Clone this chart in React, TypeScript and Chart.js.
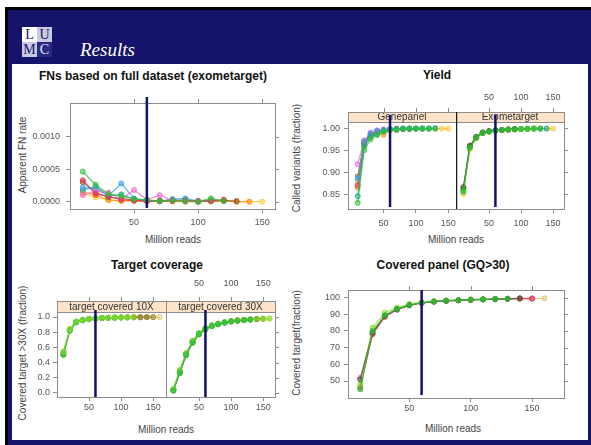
import React, { useEffect, useRef } from "react";
import { Chart, registerables } from "chart.js";

Chart.register(...registerables);

// ---------- data ----------
const READS = [10, 20, 30, 40, 50, 60, 70, 80, 90, 100, 110, 120, 130, 140, 150, 160];
const MARKER_READS = 60;
const X_TICKS = [50, 100, 150];
const FN_Y_TICKS = [0, 0.0005, 0.001];
const YIELD_Y_TICKS = [0.85, 0.9, 0.95, 1.0];
const COVERAGE_Y_TICKS = [0, 0.2, 0.4, 0.6, 0.8, 1.0];
const PANEL_Y_TICKS = [50, 60, 70, 80, 90, 100];

// FNs based on full dataset (exometarget)
const FN_RED = [0.00033, 0.00012, 0.00008, 0.00003, 0.00002, 0.00001, 0.00002, 0.00001, 0.00002, 0.00001, 0.00002, 0.00003];
const FN_GREEN = [0.00046, 0.00026, 0.00012, 0.00009, 0.00004, 0.00003, 0.00001, 0.00002, 0.00001, 0.0, 0.00005, 0.00001];
const FN_BLUE = [0.00022, 0.0002, 0.00009, 0.00028, 0.00005, 0.00002, 0.00001, 0.00004, 0.00005, 0.00001];
const FN_PINK = [0.0001, 0.00016, 0.00014, 0.00004, 0.00018, 0.00003, 0.0001, 0.00002, 0.00001, 0.00001, 0.00002];
const FN_TEAL = [0.00018, 0.00023, 0.00009, 0.00011, 0.00004, 0.00002, 0.00001, 0.00002, 0.00003, 0.0, 0.00001];
const FN_ORANGE = [0.00015, 0.0001, 0.00003, 0.00001, 0.00002, 0.00001, 0.0, 0.00001, 0.0, 0.0, 0.00001, 0.00001, 0.0, 0.0];
const FN_YELLOW = [0.00012, 0.00007, 0.00002, 0.00002, 0.00001, 0.0, 0.00001, 0.0, 0.0, 0.0, 0.0, 0.00001, 0.0, 0.0, 0.0];
const FN_BROWN = [0.0003, 0.00014, 0.00007, 0.00005, 0.00002, 0.00001, 0.00001, 0.00003, 0.00001, 0.00001, 0.00001, 0.00002, 0.00001];

// Yield - Genepanel
const YG_RED = [0.87, 0.965, 0.985, 0.992, 0.995, 0.997, 0.998, 0.998];
const YG_GREEN = [0.83, 0.95, 0.975, 0.985, 0.992, 0.996, 0.997, 0.998, 0.999, 0.999, 0.999, 0.999, 0.999];
const YG_BLUE = [0.885, 0.97, 0.988, 0.994, 0.996, 0.998, 0.998, 0.999, 0.999, 0.999, 0.999, 0.999, 1.0];
const YG_PINK = [0.918, 0.972, 0.99, 0.995, 0.997, 0.998, 0.999];
const YG_TEAL = [0.845, 0.96, 0.982, 0.985, 0.993, 0.997, 0.998, 0.999, 0.999, 0.999, 0.999, 0.999];
const YG_ORANGE = [0.865, 0.958, 0.98, 0.99, 0.985, 0.996, 0.997, 0.998, 0.999];
const YG_YELLOW = [0.88, 0.962, 0.983, 0.991, 0.994, 0.996, 0.997, 0.998, 0.998, 0.999, 0.999, 0.999, 0.999, 0.999, 0.999];
const YG_OLIVE = [0.89, 0.968, 0.986, 0.993, 0.995, 0.997, 0.996, 0.998, 0.998, 0.999, 0.999];

// Yield - Exometarget
const YE_A = [0.862, 0.958, 0.979, 0.99, 0.993, 0.995, 0.996, 0.997, 0.998, 0.998, 0.998, 0.999];
const YE_B = [0.855, 0.955, 0.978, 0.989, 0.992, 0.994, 0.996, 0.997, 0.997, 0.998, 0.998, 0.999, 0.999];
const YE_C = [0.866, 0.96, 0.98, 0.99, 0.993, 0.995, 0.996, 0.997, 0.998];
const YE_D = [0.85, 0.952, 0.977, 0.988, 0.992, 0.994, 0.995, 0.996, 0.997, 0.998, 0.998, 0.999, 0.999, 0.999, 0.999];
const YE_E = [0.858, 0.957, 0.979, 0.989, 0.993, 0.995, 0.996, 0.997, 0.998, 0.998, 0.999, 0.999, 0.999, 0.999];
const YE_F = [0.86, 0.956, 0.978, 0.99, 0.992, 0.994, 0.996, 0.997, 0.997, 0.998, 0.998, 0.999];

// Target coverage - 10X
const T10_A = [0.54, 0.84, 0.94, 0.96, 0.975, 0.982, 0.986, 0.99, 0.992, 0.994, 0.995, 0.996];
const T10_B = [0.5, 0.82, 0.93, 0.955, 0.97, 0.98, 0.985, 0.989, 0.991, 0.993, 0.995];
const T10_C = [0.52, 0.83, 0.935, 0.96, 0.972, 0.981, 0.986, 0.99, 0.992, 0.994, 0.995, 0.996, 0.997, 0.998, 0.998];
const T10_D = [0.53, 0.835, 0.94, 0.962, 0.975, 0.983, 0.987, 0.99, 0.993];
const T10_E = [0.51, 0.825, 0.93, 0.958, 0.973, 0.98, 0.985, 0.989, 0.992, 0.994, 0.995, 0.996, 0.997, 0.998];
const T10_F = [0.55, 0.845, 0.94, 0.965, 0.977, 0.984, 0.988, 0.991, 0.993, 0.995, 0.996, 0.997, 0.998, 0.998, 0.999, 0.999];

// Target coverage - 30X
const T30_A = [0.05, 0.3, 0.52, 0.68, 0.79, 0.85, 0.89, 0.91, 0.93, 0.945, 0.955, 0.962, 0.968, 0.973, 0.977, 0.98];
const T30_B = [0.03, 0.26, 0.5, 0.66, 0.77, 0.84, 0.88, 0.905, 0.925, 0.94, 0.95, 0.958, 0.965];
const T30_C = [0.04, 0.28, 0.51, 0.67, 0.78, 0.845, 0.885, 0.91, 0.93, 0.945, 0.955, 0.962, 0.968, 0.972, 0.976];
const T30_D = [0.045, 0.29, 0.52, 0.68, 0.785, 0.85, 0.89, 0.91, 0.93];
const T30_E = [0.035, 0.27, 0.5, 0.665, 0.775, 0.84, 0.88, 0.905, 0.925, 0.94, 0.952, 0.96, 0.966, 0.971];
const T30_F = [0.05, 0.3, 0.53, 0.69, 0.79, 0.855, 0.892, 0.915, 0.932, 0.947, 0.957, 0.964, 0.97, 0.974, 0.978, 0.98];

// Covered panel (GQ>30)
const CV_RED = [46, 78, 88.5, 92.8, 95.4, 96.8, 97.6, 98.1, 98.4, 98.7, 98.9, 99.1, 99.3, 99.6, 99.4];
const CV_GREEN = [45, 80, 89.5, 93.3, 95.6, 96.9, 97.7, 98.2, 98.5, 98.8, 99.0, 99.2, 99.4];
const CV_DARK = [51, 79, 89, 93, 95.5, 96.8, 97.6, 98.1, 98.4, 98.7, 98.9, 99.1, 99.3, 99.5];
const CV_PINK = [52, 78.5, 89.2, 93.2, 95.6, 96.9, 97.7, 98.2, 98.5, 98.8, 99.0, 99.2, 99.3, 99.5, 99.6];
const CV_LIME = [48, 82, 91, 94, 96.2, 97.2, 97.9, 98.3, 98.6, 98.9, 99.1, 99.3];
const CV_YELLOW = [47, 79, 89, 93, 95.6, 96.9, 97.6, 98.1, 98.4, 98.7, 98.9, 99.1, 99.3, 99.4, 99.5, 99.6];

// ---------- styles ----------
const FONT = '"Liberation Sans", Arial, sans-serif';
const NAVY = "#15146a";
const MARKER = "#101070";
const FRAME = "#8c8c8c";
const TICK_TEXT = "#555555";
const STRIP_BG = "#fde3c8";

const C_RED = "#e8364f";
const C_GREEN = "#2fbf3a";
const C_BLUE = "#3fa0f0";
const C_PINK = "#f36bd6";
const C_TEAL = "#1fa69a";
const C_ORANGE = "#ff8c1a";
const C_YELLOW = "#ffc933";
const C_BROWN = "#8c5a2b";
const C_LIME = "#86e02a";
const C_YGREEN = "#b5d930";
const C_OLIVE = "#7f7a30";
const C_DARK = "#3f5a2a";
const C_TAN = "#e0c870";

type Series = { values: number[]; color: string };
type Spec = {
  box: { left: number; top: number; right: number; bottom: number };
  m: { l: number; t: number; r: number; b: number };
  xMin: number;
  xMax: number;
  yMin: number;
  yMax: number;
  yTicks: number[];
  yFmt: (v: number) => string;
  showY: boolean;
  yPad: number;
  xPad: number;
  strip?: string;
  stripH: number;
  topLabels: boolean;
  topGap: number;
  rightTicks: boolean;
  leftEdge?: string;
  markTop: number;
  markBottom: number;
  series: Series[]; // listed bottom-most first
};

function rgba(hex: string, a: number) {
  const n = parseInt(hex.slice(1), 16);
  return `rgba(${(n >> 16) & 255},${(n >> 8) & 255},${n & 255},${a})`;
}

const FN_SPEC: Spec = {
  box: { left: 70, top: 103, right: 275, bottom: 209 },
  m: { l: 44, t: 12, r: 8, b: 24 },
  xMin: 0, xMax: 160, yMin: -0.000112, yMax: 0.001514,
  yTicks: FN_Y_TICKS, yFmt: (v) => v.toFixed(4),
  showY: true, yPad: 6, xPad: 4, stripH: 0, topLabels: false, topGap: 0,
  rightTicks: true, markTop: -6, markBottom: -1,
  series: [
    { values: FN_YELLOW, color: C_YELLOW },
    { values: FN_ORANGE, color: C_ORANGE },
    { values: FN_BROWN, color: C_BROWN },
    { values: FN_TEAL, color: C_TEAL },
    { values: FN_BLUE, color: C_BLUE },
    { values: FN_PINK, color: C_PINK },
    { values: FN_RED, color: C_RED },
    { values: FN_GREEN, color: C_GREEN },
  ],
};

const YIELD_GENE_SPEC: Spec = {
  box: { left: 348, top: 122, right: 456, bottom: 209 },
  m: { l: 40, t: 30, r: 2, b: 24 },
  xMin: -5, xMax: 162, yMin: 0.816, yMax: 1.014,
  yTicks: YIELD_Y_TICKS, yFmt: (v) => v.toFixed(2),
  showY: true, yPad: 4, xPad: 5, strip: "Genepanel", stripH: 10, topLabels: false, topGap: 14,
  rightTicks: false, markTop: -7, markBottom: -2,
  series: [
    { values: YG_YELLOW, color: C_YELLOW },
    { values: YG_ORANGE, color: C_ORANGE },
    { values: YG_OLIVE, color: C_OLIVE },
    { values: YG_PINK, color: C_PINK },
    { values: YG_RED, color: C_RED },
    { values: YG_BLUE, color: C_BLUE },
    { values: YG_TEAL, color: C_TEAL },
    { values: YG_GREEN, color: C_GREEN },
  ],
};

const YIELD_EXO_SPEC: Spec = {
  box: { left: 456, top: 122, right: 564, bottom: 209 },
  m: { l: 0, t: 30, r: 8, b: 24 },
  xMin: -1.5, xMax: 167, yMin: 0.816, yMax: 1.014,
  yTicks: YIELD_Y_TICKS, yFmt: (v) => v.toFixed(2),
  showY: false, yPad: 4, xPad: 5, strip: "Exometarget", stripH: 10, topLabels: true, topGap: 14,
  rightTicks: true, leftEdge: "#1a1a1a", markTop: -7, markBottom: -2,
  series: [
    { values: YE_D, color: C_YELLOW },
    { values: YE_E, color: C_TEAL },
    { values: YE_A, color: C_OLIVE },
    { values: YE_F, color: C_LIME },
    { values: YE_C, color: C_DARK },
    { values: YE_B, color: C_GREEN },
  ],
};

const TARGET_10_SPEC: Spec = {
  box: { left: 57, top: 312, right: 166, bottom: 397 },
  m: { l: 36, t: 35, r: 2, b: 20 },
  xMin: 0, xMax: 170, yMin: -0.053, yMax: 1.066,
  yTicks: COVERAGE_Y_TICKS, yFmt: (v) => v.toFixed(1),
  showY: true, yPad: 3, xPad: 1, strip: "target covered 10X", stripH: 11, topLabels: false, topGap: 17,
  rightTicks: false, markTop: -2, markBottom: 0,
  series: [
    { values: T10_F, color: C_TAN },
    { values: T10_E, color: C_OLIVE },
    { values: T10_C, color: "#9a8a3a" },
    { values: T10_D, color: C_TEAL },
    { values: T10_B, color: C_GREEN },
    { values: T10_A, color: C_LIME },
  ],
};

const TARGET_30_SPEC: Spec = {
  box: { left: 166, top: 312, right: 275, bottom: 397 },
  m: { l: 0, t: 35, r: 8, b: 20 },
  xMin: -1.5, xMax: 168.5, yMin: -0.053, yMax: 1.066,
  yTicks: COVERAGE_Y_TICKS, yFmt: (v) => v.toFixed(1),
  showY: false, yPad: 3, xPad: 1, strip: "target covered 30X", stripH: 11, topLabels: true, topGap: 17,
  rightTicks: true, markTop: -2, markBottom: 0,
  series: [
    { values: T30_F, color: C_TAN },
    { values: T30_C, color: C_OLIVE },
    { values: T30_E, color: C_DARK },
    { values: T30_D, color: C_TEAL },
    { values: T30_A, color: C_LIME },
    { values: T30_B, color: C_GREEN },
  ],
};

const COVERED_SPEC: Spec = {
  box: { left: 348, top: 290, right: 564, bottom: 398 },
  m: { l: 40, t: 12, r: 8, b: 20 },
  xMin: 0, xMax: 176, yMin: 39.8, yMax: 104.6,
  yTicks: PANEL_Y_TICKS, yFmt: (v) => String(v),
  showY: true, yPad: 4, xPad: 1, stripH: 0, topLabels: false, topGap: 0,
  rightTicks: true, markTop: 0, markBottom: -3,
  series: [
    { values: CV_YELLOW, color: C_TAN },
    { values: CV_PINK, color: C_PINK },
    { values: CV_RED, color: C_RED },
    { values: CV_LIME, color: C_LIME },
    { values: CV_DARK, color: C_DARK },
    { values: CV_GREEN, color: C_GREEN },
  ],
};

const PANELS = [FN_SPEC, YIELD_GENE_SPEC, YIELD_EXO_SPEC, TARGET_10_SPEC, TARGET_30_SPEC, COVERED_SPEC];

const TITLES = [
  { text: "FNs based on full dataset (exometarget)", x: 153, y: 76 },
  { text: "Yield", x: 437, y: 75 },
  { text: "Target coverage", x: 157, y: 265 },
  { text: "Covered panel (GQ>30)", x: 443, y: 265 },
];
const X_TITLES = [
  { text: "Million reads", x: 173, y: 240 },
  { text: "Million reads", x: 456, y: 240 },
  { text: "Million reads", x: 166, y: 430 },
  { text: "Million reads", x: 453, y: 429 },
];
const Y_TITLES = [
  { text: "Apparent FN rate", x: 23, y: 155 },
  { text: "Called variants (fraction)", x: 297, y: 158 },
  { text: "Covered target >30X (fraction)", x: 23, y: 353 },
  { text: "Covered target(fraction)", x: 297, y: 343 },
];

function Panel({ spec }: { spec: Spec }) {
  const ref = useRef<HTMLCanvasElement | null>(null);
  const w = spec.box.right - spec.box.left + spec.m.l + spec.m.r;
  const h = spec.box.bottom - spec.box.top + spec.m.t + spec.m.b;

  useEffect(() => {
    const s = spec;
    const tickFont = { family: FONT, size: 9 };
    const frame = {
      id: "latticeFrame",
      afterDraw(chart: any) {
        const { ctx, chartArea: a, scales } = chart;
        const xs = scales.x;
        const ys = scales.y;
        const boxTop = a.top - s.stripH;
        ctx.save();
        if (s.strip) {
          ctx.fillStyle = STRIP_BG;
          ctx.fillRect(a.left, boxTop, a.right - a.left, s.stripH);
          ctx.fillStyle = "#333";
          ctx.font = `10px ${FONT}`;
          ctx.textAlign = "center";
          ctx.textBaseline = "middle";
          ctx.fillText(s.strip, (a.left + a.right) / 2, boxTop + s.stripH / 2 + 0.5);
          ctx.strokeStyle = FRAME;
          ctx.lineWidth = 1;
          ctx.beginPath();
          ctx.moveTo(a.left, Math.round(a.top) + 0.5);
          ctx.lineTo(a.right, Math.round(a.top) + 0.5);
          ctx.stroke();
        }
        ctx.strokeStyle = FRAME;
        ctx.lineWidth = 1;
        ctx.strokeRect(
          Math.round(a.left) + 0.5,
          Math.round(boxTop) + 0.5,
          Math.round(a.right - a.left),
          Math.round(a.bottom - boxTop)
        );
        // top ticks
        ctx.beginPath();
        X_TICKS.forEach((v) => {
          const px = Math.round(xs.getPixelForValue(v)) + 0.5;
          ctx.moveTo(px, boxTop);
          ctx.lineTo(px, boxTop - 4);
        });
        ctx.stroke();
        if (s.topLabels) {
          ctx.fillStyle = TICK_TEXT;
          ctx.font = `9px ${FONT}`;
          ctx.textAlign = "center";
          ctx.textBaseline = "middle";
          X_TICKS.forEach((v) => ctx.fillText(String(v), xs.getPixelForValue(v), boxTop - s.topGap));
        }
        if (s.rightTicks) {
          ctx.beginPath();
          s.yTicks.forEach((v) => {
            const py = Math.round(ys.getPixelForValue(v)) + 0.5;
            ctx.moveTo(a.right, py);
            ctx.lineTo(a.right + 4, py);
          });
          ctx.stroke();
        }
        if (s.leftEdge) {
          ctx.strokeStyle = s.leftEdge;
          ctx.lineWidth = 1.5;
          ctx.beginPath();
          ctx.moveTo(a.left + 0.5, boxTop);
          ctx.lineTo(a.left + 0.5, a.bottom);
          ctx.stroke();
        }
        // marker line at 60 million reads
        const xm = xs.getPixelForValue(MARKER_READS);
        ctx.strokeStyle = MARKER;
        ctx.lineWidth = 2.5;
        ctx.beginPath();
        ctx.moveTo(xm, a.top + s.markTop);
        ctx.lineTo(xm, a.bottom + s.markBottom);
        ctx.stroke();
        ctx.restore();
      },
    };

    // Chart.js paints dataset 0 on top, so reverse the bottom-first list
    const ordered = s.series.slice().reverse();

    const chart = new Chart(ref.current as HTMLCanvasElement, {
      type: "line",
      data: {
        datasets: ordered.map((se) => ({
          data: se.values.map((v, i) => ({ x: READS[i], y: v })),
          borderColor: rgba(se.color, 0.8),
          backgroundColor: rgba(se.color, 0.45),
          pointBackgroundColor: rgba(se.color, 0.5),
          pointBorderColor: rgba(se.color, 0.9),
          borderWidth: 1.2,
          pointRadius: 2.5,
          pointBorderWidth: 1,
          tension: 0,
          fill: false,
        })),
      },
      options: {
        animation: false,
        responsive: false,
        maintainAspectRatio: false,
        devicePixelRatio: 1,
        events: [],
        layout: { autoPadding: false, padding: { top: s.m.t, right: s.m.r, left: 0, bottom: 0 } },
        plugins: { legend: { display: false }, tooltip: { enabled: false } },
        scales: {
          x: {
            type: "linear",
            position: "bottom",
            min: s.xMin,
            max: s.xMax,
            afterBuildTicks: (sc: any) => {
              sc.ticks = X_TICKS.map((value) => ({ value }));
            },
            afterFit: (sc: any) => {
              sc.height = s.m.b;
              sc.paddingLeft = 0;
              sc.paddingRight = 0;
            },
            ticks: {
              font: tickFont,
              color: TICK_TEXT,
              padding: s.xPad,
              maxRotation: 0,
              autoSkip: false,
              callback: (v: any) => String(v),
            },
            grid: { display: true, drawOnChartArea: false, drawTicks: true, tickLength: 4, color: FRAME },
            border: { display: false },
          },
          y: {
            type: "linear",
            position: "left",
            display: s.showY,
            min: s.yMin,
            max: s.yMax,
            afterBuildTicks: (sc: any) => {
              sc.ticks = s.yTicks.map((value) => ({ value }));
            },
            afterFit: (sc: any) => {
              sc.width = s.m.l;
              sc.paddingTop = 0;
              sc.paddingBottom = 0;
            },
            ticks: {
              font: tickFont,
              color: TICK_TEXT,
              padding: s.yPad,
              autoSkip: false,
              callback: (v: any) => s.yFmt(Number(v)),
            },
            grid: { display: true, drawOnChartArea: false, drawTicks: true, tickLength: 4, color: FRAME },
            border: { display: false },
          },
        },
      } as any,
      plugins: [frame],
    });
    return () => chart.destroy();
  }, [spec]);

  return (
    <canvas
      ref={ref}
      width={w}
      height={h}
      style={{
        position: "absolute",
        left: spec.box.left - spec.m.l,
        top: spec.box.top - spec.m.t,
        width: w,
        height: h,
      }}
    />
  );
}

function Label({ text, x, y, rotate, bold, size, color }: any) {
  return (
    <div
      style={{
        position: "absolute",
        left: x,
        top: y,
        transform: `translate(-50%, -50%)${rotate ? " rotate(-90deg)" : ""}`,
        whiteSpace: "nowrap",
        lineHeight: 1,
        fontFamily: FONT,
        fontWeight: bold ? "bold" : "normal",
        fontSize: size,
        color,
      }}
    >
      {text}
    </div>
  );
}

const LOGO_CELLS = [
  { ch: "L", bg: "#ffffff", fg: NAVY },
  { ch: "U", bg: "#c9c9e2", fg: NAVY },
  { ch: "M", bg: "#c9c9e2", fg: NAVY },
  { ch: "C", bg: "#2a2a80", fg: "#e8e8f4" },
];

export default function App() {
  return (
    <div
      style={{
        position: "fixed",
        left: 0,
        top: 0,
        width: 591,
        height: 445,
        background: "#ffffff",
        overflow: "hidden",
      }}
    >
      <div style={{ position: "absolute", left: 5, top: 7, right: 0, bottom: 0, background: "#000" }} />
      <div style={{ position: "absolute", left: 8, top: 10, right: 0, bottom: 0, background: NAVY }} />
      <div style={{ position: "absolute", left: 12, top: 64, width: 576, height: 376, background: "#fff" }} />
      <div
        style={{
          position: "absolute",
          left: 22,
          top: 27,
          width: 30,
          height: 30,
          display: "grid",
          gridTemplateColumns: "15px 15px",
          gridTemplateRows: "15px 15px",
        }}
      >
        {LOGO_CELLS.map((c) => (
          <div
            key={c.ch}
            style={{
              background: c.bg,
              color: c.fg,
              fontFamily: '"Liberation Serif", serif',
              fontSize: 14,
              lineHeight: "15px",
              textAlign: "center",
            }}
          >
            {c.ch}
          </div>
        ))}
      </div>
      <div
        style={{
          position: "absolute",
          left: 80,
          top: 40,
          fontFamily: '"Liberation Serif", serif',
          fontStyle: "italic",
          fontSize: 19,
          lineHeight: 1,
          color: "#ffffff",
        }}
      >
        Results
      </div>
      {TITLES.map((t) => (
        <Label key={t.text} {...t} bold size={12} color="#111" />
      ))}
      {X_TITLES.map((t, i) => (
        <Label key={"x" + i} {...t} size={10} color="#444" />
      ))}
      {Y_TITLES.map((t) => (
        <Label key={t.text} {...t} rotate size={10} color="#444" />
      ))}
      {PANELS.map((p, i) => (
        <Panel key={i} spec={p} />
      ))}
    </div>
  );
}
